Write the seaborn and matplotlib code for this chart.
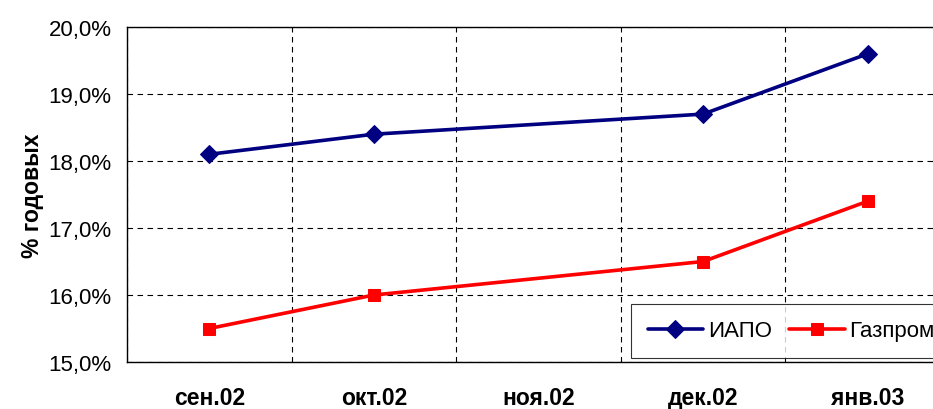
import numpy as np
import pandas as pd
import matplotlib
matplotlib.use("Agg")
import matplotlib.pyplot as plt
import seaborn as sns
from matplotlib.ticker import FuncFormatter, FixedLocator

# data
months = ['сен.02', 'окт.02', 'ноя.02', 'дек.02', 'янв.03']
iapo = [18.1, 18.4, np.nan, 18.7, 19.6]
gazprom = [15.5, 16.0, np.nan, 16.5, 17.4]

sns.set_style("white")
plt.rcParams['font.family'] = ['Liberation Sans', 'DejaVu Sans']
plt.rcParams['text.color'] = 'black'
plt.rcParams['xtick.color'] = 'black'
plt.rcParams['ytick.color'] = 'black'
plt.rcParams['axes.labelcolor'] = 'black'

df = pd.DataFrame({'pos': range(len(months)), 'ИАПО': iapo, 'Газпром': gazprom})

fig = plt.figure(figsize=(9.33, 4.10), dpi=100)
ax = fig.add_axes([127 / 933, 1 - 363 / 410, (950 - 127) / 933, (363 - 28) / 410])

d1 = df.dropna(subset=['ИАПО'])
d2 = df.dropna(subset=['Газпром'])
sns.lineplot(ax=ax, data=d1, x='pos', y='ИАПО', color='#000080', marker='D',
             markersize=9.5, linewidth=2.6, markeredgecolor='#000080', label='ИАПО')
sns.lineplot(ax=ax, data=d2, x='pos', y='Газпром', color='#FF0000', marker='s',
             markersize=8, linewidth=2.6, markeredgecolor='#FF0000', label='Газпром')

ax.set_xlim(-0.5, len(months) - 0.5)
ax.set_ylim(15, 20)
ax.set_yticks(np.arange(15, 20.01, 1))
ax.yaxis.set_major_formatter(FuncFormatter(lambda v, p: f"{v:.1f}%".replace('.', ',')))

# category boundaries as major ticks (grid), labels at centers as minor ticks
ax.xaxis.set_major_locator(FixedLocator(np.arange(-0.5, len(months), 1)))
ax.xaxis.set_minor_locator(FixedLocator(np.arange(len(months))))
ax.set_xticklabels([], minor=False)
ax.set_xticklabels(months, minor=True, fontsize=16.5, fontweight='bold')
ax.tick_params(axis='x', which='major', direction='out', length=6, width=1, color='black')
ax.tick_params(axis='x', which='minor', length=0, pad=17)
ax.tick_params(axis='y', direction='out', length=6, width=1, color='black',
               labelsize=16, pad=5)

ax.grid(True, which='major', axis='both', color='black', linestyle=(0, (5, 4)), linewidth=0.8)
ax.set_xlabel('')
ax.set_ylabel('% годовых', fontsize=16.5, fontweight='bold', labelpad=3)

for s in ['left', 'bottom', 'top']:
    ax.spines[s].set_color('black')
    ax.spines[s].set_linewidth(1)
ax.spines['right'].set_visible(False)

leg = ax.legend(loc='lower left', bbox_to_anchor=(631 / 933, 1 - 359 / 410),
                bbox_transform=fig.transFigure, ncol=2, fontsize=16, frameon=True,
                fancybox=False, shadow=False, handlelength=2.5, handletextpad=0.2,
                columnspacing=0.8, borderpad=0.75, borderaxespad=0)
leg.get_frame().set_edgecolor('black')
leg.get_frame().set_linewidth(0.8)

fig.savefig('out.png', dpi=100)
